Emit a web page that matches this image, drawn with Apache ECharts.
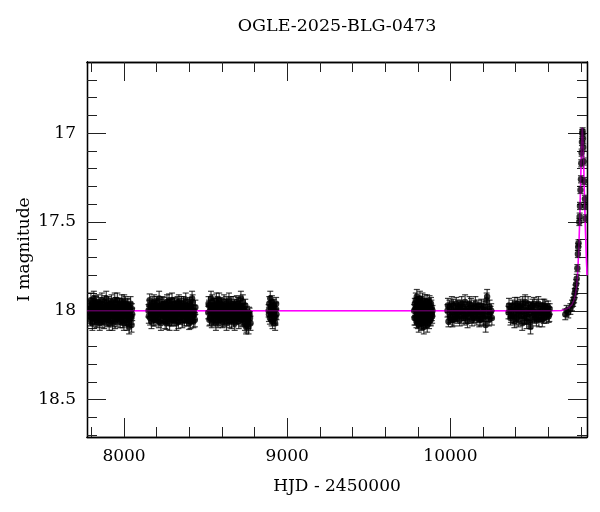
<!DOCTYPE html>
<html><head><meta charset="utf-8">
<script src="https://cdn.jsdelivr.net/npm/echarts@6/dist/echarts.min.js"></script>
<style>html,body{margin:0;padding:0;background:#fff}#c{width:600px;height:512px}</style>
</head><body><div id="c"></div>
<script>
// ---- data: [HJD-2450000, I mag, error] ----
const season1 = [[7786,18.01,.035],[7790,17.97,.03],[7795,18.03,.04],[7799,17.99,.03],[7803,18.04,.035],[7808,17.96,.03],[7812,18.00,.04],[7817,18.02,.03],[7821,17.95,.035],[7826,18.05,.04],[7830,17.98,.03],[7835,18.01,.035],[7839,17.97,.03],[7844,18.04,.04],[7848,18.00,.03],[7853,17.96,.035],[7857,18.03,.03],[7862,17.99,.04],[7866,18.06,.035],[7871,17.98,.03],[7875,18.02,.04],[7880,17.95,.035],[7884,18.01,.03],[7889,18.04,.04],[7893,17.97,.03],[7898,18.00,.035],[7902,18.05,.04],[7907,17.98,.03],[7911,18.02,.035],[7916,17.96,.03],[7920,18.03,.04],[7925,17.99,.035],[7929,18.07,.04],[7934,17.97,.03],[7938,18.01,.035],[7943,17.94,.04],[7947,18.03,.03],[7952,18.00,.035],[7956,18.05,.04],[7961,17.98,.03],[7965,18.02,.035],[7970,17.96,.03],[7974,18.04,.04],[7979,17.99,.035],[7983,18.01,.03],[7988,17.97,.04],[7992,18.06,.035],[7997,18.00,.03],[8001,17.95,.04],[8006,18.03,.035],[8010,17.98,.03],[8015,18.02,.04],[8019,18.07,.04],[8024,17.97,.035],[8028,18.01,.03],[8033,18.05,.04],[8037,17.99,.035],[8042,18.03,.03],[8046,18.08,.04],[8050,18.02,.035],
[7788,17.99,.04],[7793,18.05,.035],[7797,17.94,.04],[7801,18.02,.03],[7806,18.07,.04],[7810,17.98,.035],[7815,17.93,.04],[7819,18.04,.035],[7824,18.00,.03],[7828,17.96,.04],[7833,18.06,.035],[7837,18.02,.03],[7842,17.95,.04],[7846,18.03,.035],[7851,18.07,.04],[7855,17.98,.03],[7860,18.01,.035],[7864,17.94,.04],[7869,18.04,.035],[7873,18.00,.03],[7878,18.06,.04],[7882,17.97,.035],[7887,18.02,.03],[7891,17.93,.04],[7896,18.05,.035],[7900,18.01,.03],[7905,17.96,.04],[7909,18.07,.04],[7914,17.99,.035],[7918,18.03,.03],[7923,17.95,.04],[7927,18.01,.035],[7932,18.05,.04],[7936,17.98,.03],[7941,18.02,.035],[7945,18.06,.04],[7950,17.96,.035],[7954,18.01,.03],[7959,17.94,.04],[7963,18.04,.035],[7968,18.00,.03],[7972,17.97,.04],[7977,18.06,.035],[7981,18.02,.03],[7986,17.95,.04],[7990,18.03,.035],[7995,17.98,.03],[7999,18.07,.04],[8004,18.01,.035],[8008,17.96,.04],[8013,18.05,.035],[8017,18.00,.03],[8022,17.97,.04],[8026,18.04,.035],[8031,18.09,.04],[8035,18.00,.03],[8040,17.96,.04],[8044,18.04,.035],[8048,17.99,.03]];
const season2 = [[8150,18.00,.035],[8155,17.97,.03],[8160,18.04,.04],[8165,17.99,.03],[8171,18.02,.035],[8176,17.96,.04],[8181,18.05,.035],[8186,18.00,.03],[8192,17.98,.04],[8197,18.03,.035],[8202,17.95,.03],[8207,18.01,.04],[8213,18.06,.035],[8218,17.98,.03],[8223,18.02,.04],[8228,17.97,.035],[8234,18.04,.03],[8239,18.00,.04],[8244,17.96,.035],[8249,18.03,.03],[8255,17.99,.04],[8260,18.07,.035],[8265,17.97,.03],[8270,18.01,.04],[8276,17.94,.035],[8281,18.03,.03],[8286,18.00,.04],[8291,18.05,.035],[8297,17.98,.03],[8302,18.02,.04],[8307,17.96,.035],[8312,18.04,.03],[8318,17.99,.04],[8323,18.01,.035],[8328,17.95,.03],[8333,18.06,.04],[8339,17.98,.035],[8344,18.02,.03],[8349,17.97,.04],[8354,18.03,.035],[8360,18.00,.03],[8365,17.96,.04],[8370,18.05,.035],[8375,17.99,.03],[8381,18.02,.04],[8386,17.97,.035],[8391,18.04,.03],[8396,18.01,.04],[8402,17.96,.035],[8407,18.06,.04],[8412,17.98,.03],[8417,17.93,.04],[8422,18.03,.035],[8428,18.00,.03],[8434,18.05,.04],
[8152,18.03,.04],[8157,17.94,.035],[8162,18.00,.03],[8168,18.06,.04],[8173,17.98,.035],[8178,18.02,.03],[8184,17.95,.04],[8189,18.05,.035],[8194,18.01,.03],[8200,17.97,.04],[8205,18.04,.035],[8210,17.99,.03],[8215,17.93,.04],[8221,18.02,.035],[8226,18.07,.04],[8231,18.00,.03],[8236,17.96,.04],[8242,18.03,.035],[8247,17.98,.03],[8252,18.06,.04],[8258,18.01,.035],[8263,17.95,.04],[8268,18.04,.03],[8273,17.99,.035],[8279,18.07,.04],[8284,17.97,.035],[8289,18.02,.03],[8294,17.94,.04],[8300,18.05,.035],[8305,18.00,.03],[8310,17.97,.04],[8315,18.03,.035],[8321,18.07,.04],[8326,17.99,.03],[8331,18.02,.035],[8336,17.95,.04],[8342,18.04,.035],[8347,18.00,.03],[8352,17.96,.04],[8357,18.06,.035],[8363,18.01,.03],[8368,17.98,.04],[8373,18.03,.035],[8378,17.94,.04],[8384,18.05,.035],[8389,17.99,.03],[8394,18.02,.04],[8399,18.07,.035],[8405,17.97,.03],[8410,18.03,.04],[8415,18.00,.035],[8420,17.95,.04],[8425,18.06,.035],[8431,18.02,.03],[8437,17.98,.04]];
const season3 = [[8516,18.01,.035],[8521,17.97,.03],[8526,18.04,.04],[8531,17.99,.035],[8536,18.02,.03],[8541,17.95,.04],[8546,18.05,.035],[8551,18.00,.03],[8556,17.97,.04],[8561,18.03,.035],[8566,17.94,.04],[8571,18.01,.03],[8576,18.06,.035],[8581,17.98,.04],[8586,18.02,.03],[8591,17.96,.035],[8596,18.04,.04],[8601,18.00,.03],[8606,17.97,.035],[8611,18.05,.04],[8616,17.99,.03],[8621,18.02,.035],[8626,17.96,.04],[8631,18.04,.03],[8636,18.00,.035],[8641,17.98,.04],[8646,18.06,.035],[8651,18.01,.03],[8656,17.96,.04],[8661,18.03,.035],[8666,17.99,.03],[8671,18.05,.04],[8676,17.97,.035],[8681,18.02,.03],[8686,18.00,.04],[8691,17.95,.035],[8696,18.04,.03],[8701,18.01,.04],[8706,17.98,.035],[8711,18.03,.03],[8716,17.93,.04],[8721,18.00,.035],[8726,18.05,.04],[8731,17.99,.03],[8736,18.02,.035],[8741,18.07,.04],[8746,18.04,.035],[8751,18.08,.04],[8756,18.03,.035],[8761,18.06,.04],[8766,18.01,.03],[8772,18.04,.035],
[8518,17.96,.04],[8523,18.05,.035],[8528,18.00,.03],[8533,17.93,.04],[8538,18.06,.035],[8543,18.01,.03],[8548,17.97,.04],[8553,18.04,.035],[8558,17.99,.03],[8563,18.07,.04],[8568,18.00,.035],[8573,17.96,.04],[8578,18.03,.035],[8583,17.94,.04],[8588,18.05,.035],[8593,18.00,.03],[8598,17.97,.04],[8603,18.06,.035],[8608,18.02,.03],[8613,17.95,.04],[8618,18.04,.035],[8623,18.00,.03],[8628,18.07,.04],[8633,17.97,.035],[8638,18.02,.03],[8643,17.94,.04],[8648,18.03,.035],[8653,17.99,.03],[8658,18.06,.04],[8663,18.01,.035],[8668,17.96,.04],[8673,18.03,.035],[8678,18.07,.04],[8683,17.98,.03],[8688,18.04,.035],[8693,18.00,.04],[8698,17.96,.035],[8703,18.06,.04],[8708,18.02,.03],[8713,17.97,.04],[8718,18.05,.035],[8723,18.01,.03],[8728,17.95,.04],[8733,18.04,.035],[8738,18.00,.04],[8743,17.97,.035],[8748,18.09,.04],[8753,18.01,.035],[8758,18.05,.04],[8763,18.09,.04],[8769,18.02,.035],[8775,18.07,.04]];
const season4 = [[8886,18.00,.035],[8890,17.96,.04],[8894,18.04,.035],[8898,17.98,.03],[8902,18.02,.04],[8906,17.95,.035],[8910,18.06,.04],[8914,18.00,.03],[8918,17.97,.035],[8922,18.03,.04],[8926,18.07,.04],[8930,17.99,.035],[8934,18.02,.03],
[8888,18.02,.04],[8896,17.93,.04],[8904,18.05,.035],[8912,17.98,.04],[8920,18.01,.035],[8928,18.04,.04],[8932,17.96,.035]];
const season5 = [[9778,18.00,.035],[9782,17.96,.03],[9786,18.04,.04],[9790,17.98,.035],[9794,17.92,.04],[9797,18.02,.035],[9801,18.06,.04],[9804,17.95,.03],[9808,18.01,.035],[9811,18.05,.04],[9815,17.97,.035],[9818,18.03,.03],[9822,18.07,.04],[9825,17.99,.035],[9829,17.94,.04],[9832,18.02,.03],[9836,18.06,.04],[9839,18.00,.035],[9843,17.96,.03],[9846,18.04,.04],[9850,17.98,.035],[9853,18.01,.03],[9857,17.95,.04],[9860,18.05,.035],[9864,18.00,.03],[9867,17.97,.04],[9871,18.03,.035],[9874,17.99,.03],[9878,18.04,.04],[9881,17.96,.035],[9885,18.01,.03],[9888,18.03,.04],
[9780,18.04,.04],[9784,17.99,.035],[9788,17.94,.04],[9792,18.06,.035],[9795,18.01,.03],[9799,17.97,.04],[9802,18.03,.035],[9806,18.08,.04],[9809,17.98,.035],[9813,17.93,.04],[9816,18.05,.035],[9820,18.00,.03],[9823,17.96,.04],[9827,18.07,.035],[9830,18.03,.04],[9834,17.98,.035],[9837,18.09,.04],[9841,18.02,.03],[9844,17.95,.04],[9848,18.06,.035],[9851,17.99,.04],[9855,18.04,.035],[9858,18.08,.04],[9862,17.97,.035],[9865,18.02,.03],[9869,18.06,.04],[9872,17.95,.035],[9876,18.01,.04],[9879,18.05,.035],[9883,17.98,.04],[9886,18.02,.035],[9890,18.00,.03]];
const season6 = [[9982,18.00,.035],[9988,18.06,.03],[9994,17.98,.04],[10000,18.03,.035],[10006,17.99,.03],[10012,18.05,.04],[10018,17.97,.035],[10024,18.02,.03],[10030,18.00,.04],[10036,17.96,.035],[10042,18.04,.03],[10048,17.99,.04],[10054,18.01,.035],[10060,17.97,.03],[10066,18.03,.04],[10072,18.00,.035],[10078,17.98,.03],[10084,18.04,.04],[10090,17.95,.04],[10096,18.01,.035],[10102,17.98,.03],[10108,18.03,.04],[10114,17.99,.035],[10120,18.02,.03],[10126,17.97,.04],[10132,18.05,.035],[10138,18.00,.03],[10144,17.98,.04],[10150,18.03,.035],[10156,17.99,.03],[10162,18.04,.04],[10168,18.01,.035],[10174,17.97,.03],[10180,18.02,.04],[10186,18.05,.035],[10192,17.99,.03],[10198,18.02,.04],[10204,17.98,.035],[10210,18.03,.03],[10216,18.08,.04],[10222,17.94,.04],[10228,18.00,.035],[10234,18.03,.03],[10240,17.98,.04],[10246,18.01,.035],[10254,18.04,.04],
[9985,17.97,.04],[9997,18.04,.035],[10009,17.96,.04],[10021,18.05,.035],[10033,18.03,.03],[10045,17.98,.04],[10057,18.05,.035],[10069,17.96,.04],[10081,18.02,.035],[10093,18.03,.04],[10105,18.06,.035],[10117,17.96,.04],[10129,18.01,.035],[10141,18.04,.03],[10153,17.96,.04],[10165,18.00,.035],[10177,18.05,.04],[10189,17.97,.035],[10201,18.04,.04],[10213,18.00,.035],[10225,17.92,.04],[10237,18.05,.035],[10250,18.00,.04]];
const season7 = [[10356,18.01,.035],[10362,17.99,.03],[10368,18.04,.04],[10374,18.00,.035],[10380,17.97,.03],[10386,18.03,.04],[10392,18.06,.035],[10398,17.99,.03],[10404,18.02,.04],[10410,17.96,.035],[10416,18.05,.04],[10422,18.00,.03],[10428,17.97,.035],[10434,18.03,.04],[10440,18.07,.04],[10446,17.98,.035],[10452,18.01,.03],[10458,17.95,.04],[10464,18.04,.035],[10470,18.00,.03],[10476,17.96,.04],[10482,18.02,.035],[10488,18.06,.04],[10494,17.98,.03],[10500,18.03,.035],[10506,18.00,.04],[10512,17.96,.035],[10518,18.04,.03],[10524,18.01,.04],[10530,17.97,.035],[10536,18.02,.03],[10542,18.05,.04],[10548,17.99,.035],[10554,18.03,.03],[10560,18.00,.04],[10566,17.97,.035],[10572,18.04,.03],[10578,18.01,.04],[10584,17.98,.035],[10590,18.02,.03],[10596,18.00,.04],[10602,18.03,.035],[10608,17.99,.03],
[10359,17.97,.04],[10371,18.03,.035],[10383,18.00,.04],[10395,17.96,.035],[10407,18.04,.04],[10419,17.98,.035],[10431,18.01,.03],[10443,17.96,.04],[10455,18.04,.035],[10467,18.06,.04],[10479,17.99,.035],[10491,18.09,.04],[10503,17.97,.035],[10515,18.02,.04],[10527,18.05,.035],[10539,17.96,.04],[10551,18.01,.035],[10563,18.05,.04],[10575,17.97,.035],[10587,18.03,.04],[10599,17.98,.035],[10606,18.02,.04]];
const season8 = [[10704,18.02,.03],[10712,18.00,.03],[10722,18.01,.03],[10735,17.99,.03],[10745,17.97,.03],[10752,17.95,.025],[10758,17.93,.025],[10762,17.90,.025],[10766,17.88,.025],[10770,17.85,.025],[10774,17.82,.025],[10778,17.76,.02],[10781,17.68,.02],[10783,17.64,.02],[10785,17.62,.02],[10790,17.50,.02],[10792,17.47,.02],[10794,17.41,.02],[10797,17.32,.02],[10800,17.26,.02],[10802,17.17,.02],[10804,17.11,.02],[10806,17.05,.02],[10808,17.00,.02],[10810,16.99,.02],[10812,17.03,.02],[10814,17.08,.02],[10817,17.16,.02],[10820,17.27,.02],[10824,17.37,.02],[10826,17.41,.02],[10828,17.48,.02]];
// model curve [HJD-2450000, I mag]
const modelCurve = [[7773,18.0],[10600,18.0],[10680,17.998],[10710,17.99],[10730,17.98],[10745,17.965],[10755,17.945],[10765,17.91],[10772,17.87],[10778,17.81],[10783,17.73],[10788,17.62],[10792,17.5],[10796,17.36],[10800,17.2],[10804,17.06],[10808,16.97],[10812,17.02],[10816,17.15],[10820,17.3],[10825,17.47],[10830,17.62],[10837,17.8]];
// axes
const xRange = [7773, 10837];
const yRange = [16.6, 18.71];
const xMajorTicks = [8000, 9000, 10000];
const xMinorTicks = [7800,8000,8200,8400,8600,8800,9000,9200,9400,9600,9800,10000,10200,10400,10600,10800];
const yMajorTicks = [17, 17.5, 18, 18.5];
const yMinorTicks = [16.7,16.8,16.9,17.0,17.1,17.2,17.3,17.4,17.5,17.6,17.7,17.8,17.9,18.0,18.1,18.2,18.3,18.4,18.5,18.6,18.7];
const titleText = 'OGLE-2025-BLG-0473';
const xName = 'HJD - 2450000';
const yName = 'I magnitude';

const FONT = 'DejaVu Serif';
const allPoints = [].concat(season1, season2, season3, season4, season5, season6, season7, season8);

function labelCfg(ticks) {
  return { show: true, customValues: ticks, margin: 11, color: '#000', fontFamily: FONT, fontSize: 17,
    formatter: function (v) { return String(v); } };
}
function xAx(pos, ticks, len, showLabel, extra) {
  return Object.assign({
    type: 'value', position: pos, min: xRange[0], max: xRange[1], offset: 0,
    axisLine: { show: true, onZero: false, lineStyle: { color: '#000', width: 1.3 } },
    axisTick: { show: true, inside: true, length: len, customValues: ticks, lineStyle: { color: '#222', width: 1 } },
    axisLabel: showLabel ? labelCfg(ticks) : { show: false },
    splitLine: { show: false }
  }, extra || {});
}
function yAx(pos, ticks, len, showLabel, extra) {
  return Object.assign({
    type: 'value', position: pos, min: yRange[0], max: yRange[1], inverse: true, offset: 0,
    axisLine: { show: true, onZero: false, lineStyle: { color: '#000', width: 1.3 } },
    axisTick: { show: true, inside: true, length: len, customValues: ticks, lineStyle: { color: '#222', width: 1 } },
    axisLabel: showLabel ? labelCfg(ticks) : { show: false },
    splitLine: { show: false }
  }, extra || {});
}

function renderPoint(params, api) {
  const t = api.value(0), m = api.value(1), e = api.value(2);
  const p = api.coord([t, m]);
  const hi = api.coord([t, m - e]);
  const lo = api.coord([t, m + e]);
  const cw = 3;
  const st = { stroke: '#000', lineWidth: 1.2, opacity: 0.75 };
  return { type: 'group', children: [
    { type: 'line', shape: { x1: p[0], y1: hi[1], x2: p[0], y2: lo[1] }, style: st },
    { type: 'line', shape: { x1: p[0] - cw, y1: hi[1], x2: p[0] + cw, y2: hi[1] }, style: st },
    { type: 'line', shape: { x1: p[0] - cw, y1: lo[1], x2: p[0] + cw, y2: lo[1] }, style: st },
    { type: 'circle', shape: { cx: p[0], cy: p[1], r: 3.2 }, style: { fill: '#000', opacity: 0.8 } }
  ]};
}

const chart = echarts.init(document.getElementById('c'), null, { renderer: 'canvas' });
chart.setOption({
  animation: false,
  backgroundColor: '#fff',
  title: { text: titleText, left: 332, top: 12, textAlign: 'center',
    textStyle: { fontFamily: FONT, fontSize: 17.5, fontWeight: 'normal', color: '#000' } },
  grid: { left: 87, right: 13, top: 62, bottom: 75, containLabel: false },
  xAxis: [
    xAx('bottom', xMajorTicks, 19, true, { name: xName, nameLocation: 'middle', nameGap: 41,
      nameTextStyle: { fontFamily: FONT, fontSize: 17, color: '#000', verticalAlign: 'top' } }),
    xAx('bottom', xMinorTicks, 10, false),
    xAx('top', xMajorTicks, 19, false),
    xAx('top', xMinorTicks, 10, false)
  ],
  yAxis: [
    yAx('left', yMajorTicks, 19, true, { name: yName, nameLocation: 'middle', nameGap: 54, nameRotate: 90,
      nameMoveOverlap: false, nameTextStyle: { fontFamily: FONT, fontSize: 17, color: '#000' } }),
    yAx('left', yMinorTicks, 10, false),
    yAx('right', yMajorTicks, 19, false),
    yAx('right', yMinorTicks, 10, false)
  ],
  series: [
    { type: 'line', data: modelCurve, xAxisIndex: 0, yAxisIndex: 0, showSymbol: false, symbol: 'none',
      lineStyle: { color: '#ff00ff', width: 1.5 }, z: 1, clip: true },
    { type: 'custom', data: allPoints, xAxisIndex: 0, yAxisIndex: 0, renderItem: renderPoint,
      encode: { x: 0, y: 1 }, dimensions: ['t', 'mag', 'err'], z: 2, clip: true },
    { type: 'line', data: modelCurve, xAxisIndex: 0, yAxisIndex: 0, showSymbol: false, symbol: 'none',
      lineStyle: { color: '#ff00ff', width: 1.5, opacity: 0.35 }, z: 3, clip: true }
  ]
});
</script>
</body></html>
